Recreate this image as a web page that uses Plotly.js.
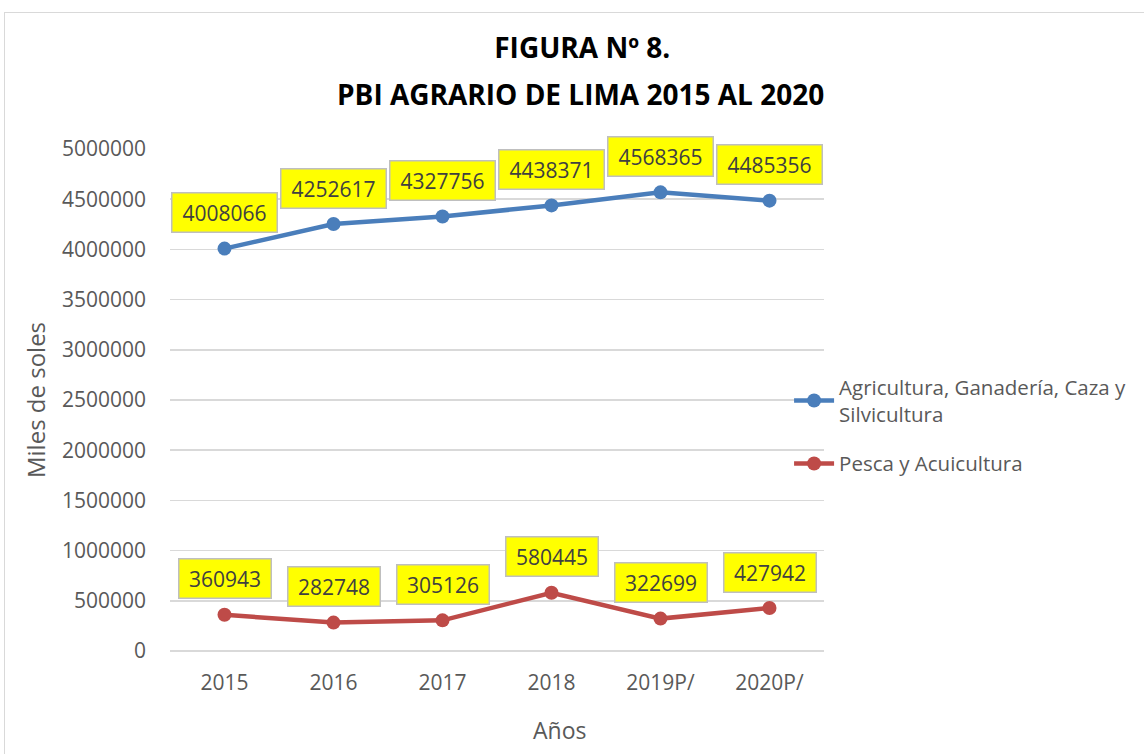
<!DOCTYPE html>
<html><head><meta charset="utf-8">
<script src="https://cdn.plot.ly/plotly-3.0.1.min.js"></script>
<style>
html,body{margin:0;padding:0;background:#fff;overflow:hidden;}
#frame{position:absolute;left:4px;top:12px;width:1200px;height:800px;border:1px solid #d9d9d9;box-sizing:border-box;}
#chart{position:absolute;left:0;top:0;width:1144px;height:754px;}
</style></head>
<body>
<div id="frame"></div>
<div id="chart"></div>
<script>
const years = ["2015","2016","2017","2018","2019P/","2020P/"];
const agricultura = [4008066, 4252617, 4327756, 4438371, 4568365, 4485356];
const pesca = [360943, 282748, 305126, 580445, 322699, 427942];
const seriesNames = ["Agricultura, Ganadería, Caza y<br>Silvicultura", "Pesca y Acuicultura"];
const yTicks = [0,500000,1000000,1500000,2000000,2500000,3000000,3500000,4000000,4500000,5000000];
const titleLine1 = "FIGURA Nº 8.";
const titleLine2 = "PBI AGRARIO DE LIMA 2015 AL 2020";
const xTitle = "Años";
const yTitle = "Miles de soles";

const FONT = "Open Sans, sans-serif";
const colors = ["#4a7ebb", "#be4b48"];

const traces = [agricultura, pesca].map((vals, i) => ({
  x: years, y: vals, name: seriesNames[i], type: "scatter", mode: "lines+markers",
  legendgroup: "g" + i,
  line: {color: colors[i], width: 4.5},
  marker: {color: colors[i], size: 14}
}));

const annotations = [];
[agricultura, pesca].forEach(vals => {
  vals.forEach((v, j) => {
    const s = String(v);
    annotations.push({
      x: j, y: v, xref: "x", yref: "y", text: s, showarrow: false,
      yshift: 36, bgcolor: "#ffff00", bordercolor: "#bfbfbf", borderwidth: 1.5, borderpad: 6,
      width: s.length * 13 + 1, height: 26,
      font: {family: FONT, size: 21, color: "#404040"}
    });
  });
});
// axis title for x (offset to the right like the reference)
annotations.push({
  xref: "paper", yref: "paper", x: 0.595, y: -0.158, yanchor: "middle", xanchor: "center",
  text: xTitle, showarrow: false, font: {family: FONT, size: 23, color: "#595959"}
});
// second title line
annotations.push({
  xref: "paper", yref: "paper", x: 0.628, y: 1.11, yanchor: "middle", xanchor: "center",
  text: "<b>" + titleLine2 + "</b>", showarrow: false, font: {family: FONT, size: 28, color: "#000000"}
});

const layout = {
  width: 1144, height: 754,
  margin: {l: 170, r: 318, t: 149, b: 103},
  paper_bgcolor: "rgba(0,0,0,0)", plot_bgcolor: "rgba(0,0,0,0)",
  font: {family: FONT, color: "#595959"},
  title: {
    text: "<b>" + titleLine1 + "</b>",
    font: {family: FONT, size: 28, color: "#000000"},
    x: 0.509, xanchor: "center", xref: "container", y: 0.936, yanchor: "middle", yref: "container"
  },
  xaxis: {
    type: "category", range: [-0.5, 5.5], showgrid: false, zeroline: false,
    showline: false, ticks: "", ticklabelstandoff: 17,
    tickfont: {family: FONT, size: 21, color: "#595959"}
  },
  yaxis: {
    range: [0, 5000000], tickvals: yTicks, ticktext: yTicks.map(String),
    showgrid: true, gridcolor: "#d9d9d9", gridwidth: 1.5,
    zeroline: true, zerolinecolor: "#d9d9d9", zerolinewidth: 1.5,
    showline: false, ticks: "", ticklabelstandoff: 23,
    tickfont: {family: FONT, size: 21, color: "#595959"},
    title: {text: yTitle, font: {family: FONT, size: 24, color: "#595959"}, standoff: 9}
  },
  showlegend: true,
  legend: {
    x: 0.9466, xanchor: "left", y: 0.565, yanchor: "top",
    font: {family: FONT, size: 20.5, color: "#595959"},
    bgcolor: "rgba(0,0,0,0)", itemwidth: 40, tracegroupgap: 20, traceorder: "grouped"
  },
  annotations: annotations
};

Plotly.newPlot("chart", traces, layout, {displayModeBar: false, staticPlot: true});
</script>
</body></html>
